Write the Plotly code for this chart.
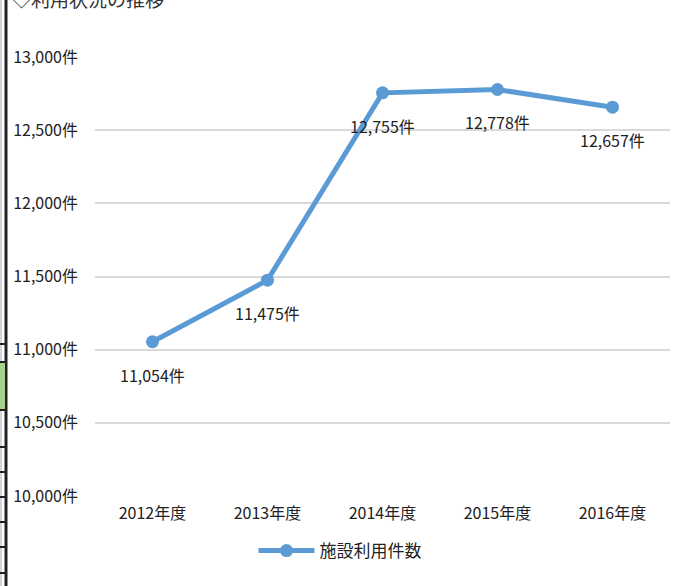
import plotly.graph_objects as go

categories = ["2012年度", "2013年度", "2014年度", "2015年度", "2016年度"]
values = [11054, 11475, 12755, 12778, 12657]
series_name = "施設利用件数"
title_text = "◇利用状況の推移"
y_ticks = [10000, 10500, 11000, 11500, 12000, 12500, 13000]

FONT = "Noto Sans CJK JP"
COLOR = "#5B9BD5"

W, H = 680, 586
L, R, T, B = 95, 10, 57, 90
PW, PH = W - L - R, H - T - B

def px_x(p):
    return (p - L) / PW

def px_y(p):
    return (H - B - p) / PH

fig = go.Figure()
fig.add_trace(go.Scatter(
    x=categories, y=values, mode="lines+markers", name=series_name,
    line=dict(color=COLOR, width=5),
    marker=dict(color=COLOR, size=13),
))

annotations = []
for c, v in zip(categories, values):
    annotations.append(dict(
        x=c, y=v, xref="x", yref="y", text=f"{v:,}件", showarrow=False,
        yshift=-33, font=dict(family=FONT, size=16, color="#222222"),
    ))
annotations.append(dict(
    x=px_x(10), y=px_y(-2), xref="paper", yref="paper", xanchor="left", yanchor="middle",
    text=title_text, showarrow=False, font=dict(family=FONT, size=19, color="#333333"),
))

shapes = []
# decorative left-edge artifacts from the source screenshot
shapes.append(dict(type="line", xref="paper", yref="paper",
                   x0=px_x(6), x1=px_x(6), y0=px_y(-5), y1=px_y(600),
                   line=dict(color="#222222", width=3)))
shapes.append(dict(type="line", xref="paper", yref="paper",
                   x0=px_x(1), x1=px_x(1), y0=px_y(-5), y1=px_y(600),
                   line=dict(color="#aaaaaa", width=1)))
shapes.append(dict(type="rect", xref="paper", yref="paper",
                   x0=px_x(0), x1=px_x(5), y0=px_y(362), y1=px_y(410),
                   fillcolor="#A9D18E", line=dict(width=0)))
for p in [344, 362, 410, 447, 472, 497, 522, 547, 573]:
    shapes.append(dict(type="line", xref="paper", yref="paper",
                       x0=px_x(0), x1=px_x(5), y0=px_y(p), y1=px_y(p),
                       line=dict(color="#222222", width=2)))

fig.update_layout(
    width=W, height=H,
    margin=dict(l=L, r=R, t=T, b=B),
    plot_bgcolor="white", paper_bgcolor="white",
    font=dict(family=FONT, size=16, color="#222222"),
    showlegend=True,
    legend=dict(orientation="h", xref="container", yref="container",
                x=0.5, xanchor="center", y=1 - 551 / H, yanchor="middle",
                font=dict(family=FONT, size=17, color="#222222"), itemwidth=56),
    xaxis=dict(type="category", range=[-0.5, 4.5], showgrid=False, showline=False,
               zeroline=False, tickfont=dict(family=FONT, size=16), ticks="",
               ticklabelstandoff=6),
    yaxis=dict(range=[10000, 13000], tickvals=y_ticks,
               ticktext=[f"{t:,}件" for t in y_ticks],
               showgrid=True, gridcolor="#d9d9d9", gridwidth=1.5,
               zeroline=False, showline=False, ticks="",
               tickfont=dict(family=FONT, size=16), ticklabelstandoff=16),
    annotations=annotations,
    shapes=shapes,
)

fig.write_html("out.html", config={"displayModeBar": False},
               post_script="document.body.style.margin='0';document.body.style.overflow='hidden';")
